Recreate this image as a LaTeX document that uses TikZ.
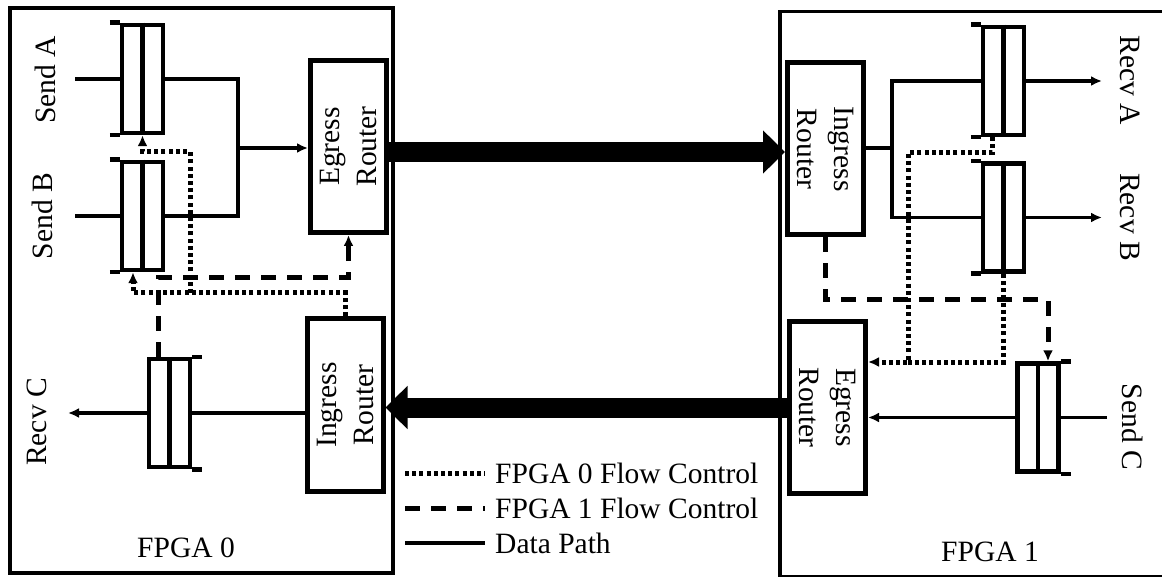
\documentclass[tikz,border=0pt]{standalone}
\usepackage{fontspec}
\setmainfont{Liberation Serif}
\usetikzlibrary{arrows.meta,calc}
\begin{document}
\begin{tikzpicture}[x=1pt,y=-1pt,
  every node/.style={font=\fontsize{29.5}{34}\selectfont},
  fpgabox/.style={draw,line width=3.5pt,inner sep=0pt},
  fifo/.style={draw,line width=4.5pt,minimum width=41pt,minimum height=108pt,inner sep=0pt},
  fifol/.style={line width=4.5pt},
  router/.style={draw,line width=5pt,minimum width=76pt,minimum height=172pt,inner sep=0pt},
  rtext/.style={align=center,inner sep=0pt,font=\fontsize{29.5}{37}\selectfont},
  data/.style={line width=3.5pt},
  tip/.style={-{Latex[length=11pt,width=10pt]}},
  dotfc/.style={line width=5pt,dash pattern=on 4pt off 3.2pt},
  dashfc/.style={line width=5pt,dash pattern=on 15pt off 11pt},
  bigarrow/.style={line width=20pt,-{Triangle[length=22pt,width=42pt]}},
]
\useasboundingbox (0,0) rectangle (1162,577);

% outer FPGA boxes
\node[fpgabox,minimum width=383pt,minimum height=565pt] (f0) at (201.5,290.5) {};
\node[fpgabox,minimum width=400pt,minimum height=565pt,anchor=north west] (f1) at (778,10) {};
\node (f0l) at (186,548) {FPGA 0};
\node (f1l) at (990,552) {FPGA 1};

% FIFOs FPGA 0
\node[fifo] (fa) at (142.5,79) {};
\node[fifo] (fb) at (142.5,216) {};
\node[fifo] (fc0) at (169.5,413) {};
% FIFOs FPGA 1
\node[fifo] (ra) at (1003.5,81) {};
\node[fifo] (rb) at (1003.5,217.5) {};
\node[fifo] (sc) at (1038,417.5) {};

% FIFO middle lines and extensions
\foreach \f in {fa,fb,fc0,ra,rb,sc} { \draw[fifol] (\f.north) -- (\f.south); }
\foreach \f in {fa,fb,ra,rb} {
  \draw[fifol] ([xshift=-10pt]\f.north west) -- (\f.north west);
  \draw[fifol] ([xshift=-10pt]\f.south west) -- (\f.south west);
}
\foreach \f in {fc0,sc} {
  \draw[fifol] (\f.north east) -- ([xshift=10pt]\f.north east);
  \draw[fifol] (\f.south east) -- ([xshift=10pt]\f.south east);
}

% routers
\node[router] (egL) at (348.5,146.5) {};
\node[router] (inL) at (345,405) {};
\node[router] (inR) at (825.5,149) {};
\node[router] (egR) at (827.5,407.5) {};
\node[rtext,rotate=90] at (egL.center) {Egress\\Router};
\node[rtext,rotate=90] at (inL.center) {Ingress\\Router};
\node[rtext,rotate=-90] at (inR.center) {Ingress\\Router};
\node[rtext,rotate=-90] at (egR.center) {Egress\\Router};

% labels
\node[rotate=90] (lsa) at (45,80) {Send A};
\node[rotate=90] (lsb) at (42,216) {Send B};
\node[rotate=90] (lrc) at (37,422) {Recv C};
\node[rotate=-90] (lra) at (1130,80) {Recv A};
\node[rotate=-90] (lrb) at (1130,217) {Recv B};
\node[rotate=-90] (lsc) at (1133,427) {Send C};

% data paths FPGA 0
\coordinate (jL) at (238,148);
\coordinate (sain) at (75,79);
\coordinate (sbin) at (75,216);
\coordinate (rcout) at (68,413);
\draw[data] (sain) -- (fa.west);
\draw[data] (sbin) -- (fb.west);
\draw[data] (fa.east) -| (jL) |- (fb.east);
\draw[data,tip] (jL) -- (jL -| egL.west);
\draw[data] (inL.west |- fc0.east) -- (fc0.east);
\draw[data,tip] (fc0.west) -- (rcout);

% data paths FPGA 1
\coordinate (jR) at (892,148);
\coordinate (raout) at (1102,81);
\coordinate (rbout) at (1102,217.5);
\coordinate (scin) at (1107,417.5);
\draw[data] (inR.east |- jR) -- (jR);
\draw[data] (ra.west) -| (jR) |- (rb.west);
\draw[data,tip] (ra.east) -- (raout);
\draw[data,tip] (rb.east) -- (rbout);
\draw[data] (scin) -- (sc.east);
\draw[data,tip] (sc.west) -- (sc.west -| egR.east);

% inter-FPGA links
\draw[bigarrow] ([yshift=-5.5pt]egL.east) -- ([yshift=-5.5pt]egL.east -| inR.west);
\draw[bigarrow] (egR.west) -- (egR.west -| inL.east);

% FPGA 0 flow control (dotted)
\coordinate (d1) at (345,293);
\coordinate (d2) at (190,293);
\coordinate (fbin) at ([xshift=-9.5pt]fb.south);
\draw[dotfc,tip] (inL.north) -- (d1) -| (fbin);
\draw[dotfc,tip] (d2) |- (fa.south |- 0,152) -- (fa.south);
\coordinate (raf) at ([xshift=-11.5pt]ra.south);
\coordinate (d3) at (908,153);
\draw[dotfc,tip] (raf) |- (d3) |- (egR.east |- 0,362);
\draw[dotfc] (rb.south) |- (d3 |- 0,362);

% FPGA 1 flow control (dashed)
\coordinate (fcf) at ([xshift=-11.5pt]fc0.north);
\draw[dashfc,tip] (fcf) |- (egL.south |- 0,278) -- (egL.south);
\coordinate (scf) at ([xshift=10pt]sc.north);
\draw[dashfc,tip] (inR.south) |- (scf |- 0,300) -- (scf);

% legend
\coordinate (l1a) at (405,473); \coordinate (l1b) at (485,473);
\coordinate (l2a) at (405,508); \coordinate (l2b) at (485,508);
\coordinate (l3a) at (405,543); \coordinate (l3b) at (485,543);
\draw[dotfc] (l1a) -- (l1b);
\draw[dashfc] (l2a) -- (l2b);
\draw[data,line width=4pt] (l3a) -- (l3b);
\node[anchor=west,inner sep=0pt] (t1) at (495,473) {FPGA 0 Flow Control};
\node[anchor=west,inner sep=0pt] (t2) at (495,508) {FPGA 1 Flow Control};
\node[anchor=west,inner sep=0pt] (t3) at (495,543) {Data Path};
\end{tikzpicture}
\end{document}
